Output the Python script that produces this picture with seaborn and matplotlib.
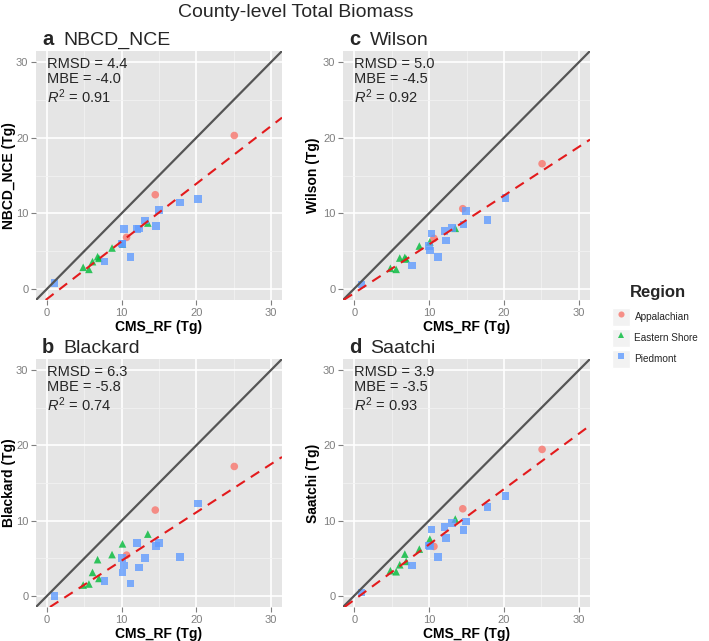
import numpy as np
import pandas as pd
import seaborn as sns
import matplotlib.pyplot as plt
from matplotlib.lines import Line2D
from matplotlib.patches import Rectangle
from matplotlib.legend_handler import HandlerTuple

# ---------------- data ----------------
regions = ["Appalachian", "Eastern Shore", "Piedmont"]

cms_app = [10.65, 14.5, 25.1]
cms_es = [4.83, 5.6, 6.08, 6.76, 6.94, 8.7, 10.1, 13.5]
cms_pied = [0.98, 7.7, 10.0, 10.1, 10.3, 11.2, 12.05, 12.3, 13.1, 14.6, 14.96, 17.8, 20.2]

nbcd_app = [6.8, 12.45, 20.3]
nbcd_es = [2.83, 2.56, 3.58, 4.24, 4.02, 5.39, 5.9, 8.7]
nbcd_pied = [0.75, 3.6, 6.0, 5.9, 7.9, 4.2, 7.9, 8.0, 9.05, 8.3, 10.4, 11.4, 11.9]

blackard_app = [5.4, 11.4, 17.2]
blackard_es = [1.42, 1.56, 3.1, 4.8, 2.3, 5.47, 6.9, 8.2]
blackard_pied = [0.0, 1.96, 5.0, 3.07, 4.04, 1.64, 6.98, 3.73, 5.02, 6.58, 6.98, 5.16, 12.27]

wilson_app = [6.67, 10.6, 16.56]
wilson_es = [2.7, 2.56, 4.06, 4.15, 3.93, 5.65, 6.2, 8.0]
wilson_pied = [0.57, 3.05, 5.65, 5.08, 7.33, 4.2, 7.68, 6.4, 8.04, 8.52, 10.3, 9.14, 12.05]

saatchi_app = [6.56, 11.57, 19.47]
saatchi_es = [3.33, 3.19, 4.12, 5.54, 4.57, 6.2, 7.54, 10.2]
saatchi_pied = [0.44, 4.04, 6.7, 6.65, 8.82, 5.14, 9.18, 7.72, 9.67, 8.74, 9.89, 11.8, 13.26]

panel_letters = ["a", "c", "b", "d"]
panel_names = ["NBCD_NCE", "Wilson", "Blackard", "Saatchi"]
rmsd = ["4.4", "5.0", "6.3", "3.9"]
mbe = ["-4.0", "-4.5", "-5.8", "-3.5"]
r2 = ["0.91", "0.92", "0.74", "0.93"]
ticks = [0, 10, 20, 30]
tick_labels = ["0", "10", "20", "30"]

series = {
    "NBCD_NCE": (nbcd_app, nbcd_es, nbcd_pied),
    "Wilson": (wilson_app, wilson_es, wilson_pied),
    "Blackard": (blackard_app, blackard_es, blackard_pied),
    "Saatchi": (saatchi_app, saatchi_es, saatchi_pied),
}

colors = {"Appalachian": "#F8766D", "Eastern Shore": "#00BA38", "Piedmont": "#619CFF"}
markers = {"Appalachian": "o", "Eastern Shore": "^", "Piedmont": "s"}

# ---------------- style ----------------
sns.set_theme(style="darkgrid")
plt.rcParams["font.family"] = ["Liberation Sans", "DejaVu Sans"]
plt.rcParams["mathtext.fontset"] = "custom"
plt.rcParams["mathtext.rm"] = "Liberation Sans"
plt.rcParams["mathtext.it"] = "Liberation Sans:italic"

W, H = 709, 641
fig = plt.figure(figsize=(W / 100, H / 100), dpi=100)
fig.patch.set_facecolor("white")

# axes boxes in pixels: (left, top, right, bottom)
boxes = [(36, 51, 282, 300), (343, 51, 590, 300), (36, 359, 282, 607), (343, 359, 590, 607)]
ylabel_x = [-0.082, -0.095, -0.082, -0.095]

for i, name in enumerate(panel_names):
    l, t, r, b = boxes[i]
    ax = fig.add_axes([l / W, 1 - b / H, (r - l) / W, (b - t) / H])
    app, es, pied = series[name]
    df = pd.DataFrame({
        "cms": cms_app + cms_es + cms_pied,
        "val": app + es + pied,
        "Region": [regions[0]] * len(cms_app) + [regions[1]] * len(cms_es) + [regions[2]] * len(cms_pied),
    })
    ax.set_facecolor("#E5E5E5")
    ax.set_xlim(-1.5, 31.5)
    ax.set_ylim(-1.5, 31.5)
    ax.set_xticks(ticks)
    ax.set_xticklabels(tick_labels)
    ax.set_yticks(ticks)
    ax.set_yticklabels(tick_labels)
    ax.set_xticks([5, 15, 25], minor=True)
    ax.set_yticks([5, 15, 25], minor=True)
    ax.grid(which="major", color="white", lw=1.2)
    ax.grid(which="minor", color="#F2F2F2", lw=0.6)
    ax.set_axisbelow(True)
    for s in ax.spines.values():
        s.set_visible(False)
    ax.tick_params(which="major", length=3.5, width=0.8, color="#7F7F7F",
                   labelcolor="#7F7F7F", labelsize=8, pad=2, bottom=True, left=True)
    ax.tick_params(which="minor", length=0)

    sns.scatterplot(data=df, x="cms", y="val", hue="Region", style="Region",
                    hue_order=regions, style_order=regions,
                    palette=colors, markers=markers, s=30, alpha=0.8,
                    edgecolor="none", legend=False, ax=ax, zorder=3)

    # 1:1 line
    ax.axline((0, 0), slope=1, color="#555555", lw=1.6, zorder=4)
    # least-squares fit line
    m, c = np.polyfit(df["cms"], df["val"], 1)
    ax.axline((0, c), slope=m, color="#E31A1C", lw=1.5, dashes=(4.8, 3.4), zorder=5)

    ax.set_xlabel("CMS_RF (Tg)", fontsize=10, fontweight="bold", color="black")
    ax.set_ylabel(f"{name} (Tg)", fontsize=10, fontweight="bold", color="black")
    ax.xaxis.set_label_coords(0.5, -0.08)
    ax.yaxis.set_label_coords(ylabel_x[i], 0.5)

    # stats
    ax.text(0.045, 0.975, f"RMSD = {rmsd[i]}", transform=ax.transAxes, fontsize=10.5, va="top", ha="left")
    ax.text(0.045, 0.915, f"MBE = {mbe[i]}", transform=ax.transAxes, fontsize=10.5, va="top", ha="left")
    ax.text(0.045, 0.855, r"$R^2$" + f" = {r2[i]}", transform=ax.transAxes, fontsize=10.5, va="top", ha="left")

    # panel titles
    fig.text((l + 6) / W, 1 - (t - 6) / H, panel_letters[i], fontsize=14.5, fontweight="bold", ha="left", va="baseline")
    fig.text((l + 27) / W, 1 - (t - 6) / H, name, fontsize=14, ha="left", va="baseline")

fig.text(296 / W, 1 - 17 / H, "County-level Total Biomass", fontsize=14, ha="center", va="baseline")

# legend
handles = []
for reg in regions:
    bg = Rectangle((0, 0), 1, 1, facecolor="#F2F2F2", edgecolor="white")
    mk = Line2D([], [], linestyle="none", marker=markers[reg], color=colors[reg], alpha=0.8,
                markersize=4.4, markeredgewidth=0)
    handles.append((bg, mk))
fig.text(658 / W, 1 - 292 / H, "Region", fontsize=12, fontweight="bold", ha="center", va="center")
leg = fig.legend(handles, regions, loc="upper left", bbox_to_anchor=(610 / W, 1 - 306 / H),
                 frameon=False, fontsize=7.2,
                 handler_map={tuple: HandlerTuple(ndivide=1, pad=0)},
                 handlelength=1.8, handleheight=2.35, handletextpad=0.45,
                 labelspacing=0.35, borderaxespad=0, borderpad=0.2)

fig.savefig("out.png", dpi=100)
